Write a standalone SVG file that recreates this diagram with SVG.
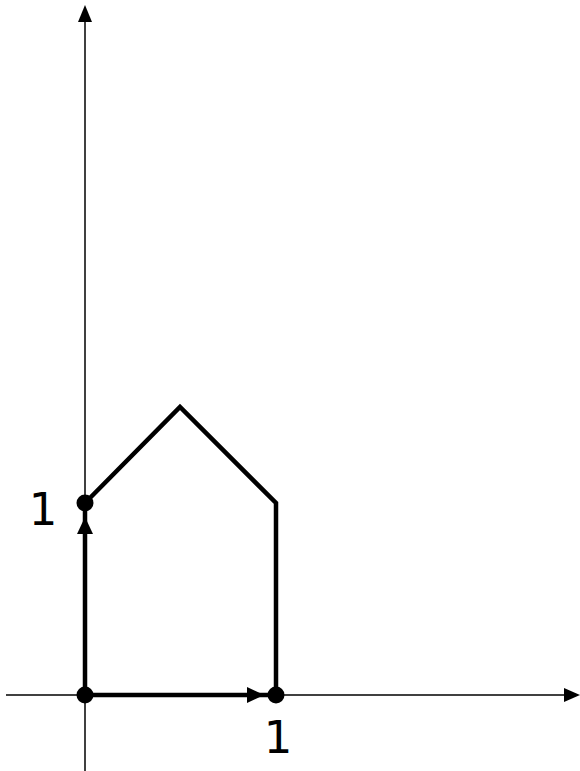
<svg xmlns="http://www.w3.org/2000/svg" width="580" height="771" viewBox="0 0 580 771">
<style>
.axis{stroke:#000;stroke-width:1.5;fill:none}
.thick{stroke:#000;stroke-width:4.5;fill:none;stroke-linejoin:miter}
.head{fill:#000}
.dot{fill:#000}
text{font-family:"DejaVu Sans",sans-serif;font-size:45px;fill:#000}
</style>
<rect width="580" height="771" fill="#fff"/>
<g id="axes">
<line class="axis" x1="6" y1="695" x2="570" y2="695"/>
<polygon class="head" points="580,695 564,688 564,702"/>
<line class="axis" x1="85" y1="771" x2="85" y2="14"/>
<polygon class="head" points="85,5 78,22 92,22"/>
</g>
<g id="connectors">
<polyline class="thick" points="85,695 276,695"/>
<polyline class="thick" points="85,695 85,503"/>
<polyline class="thick" points="276,695 276,503 180,407 85,503"/>
<polygon class="head" points="264,695 247,687 247,703"/>
<polygon class="head" points="85,517 77,534 93,534"/>
</g>
<g id="origin"><circle class="dot" cx="85" cy="695" r="8.5"/></g>
<g id="e1"><circle class="dot" cx="276" cy="695" r="8.5"/><text x="278" y="753" text-anchor="middle">1</text></g>
<g id="e2"><circle class="dot" cx="85" cy="503" r="8.5"/><text x="43" y="525" text-anchor="middle">1</text></g>
</svg>
